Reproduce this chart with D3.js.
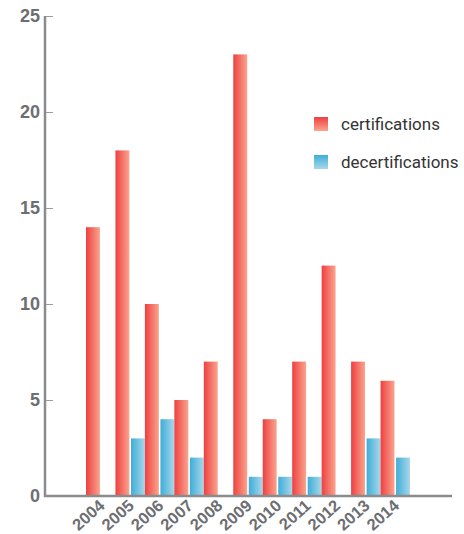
<!DOCTYPE html>
<html>
<head>
<meta charset="utf-8">
<script src="https://cdn.jsdelivr.net/npm/d3@7"></script>
<style>
  html, body { margin: 0; padding: 0; background: #fff; }
  svg { display: block; }
</style>
</head>
<body>
<svg id="chart" width="464" height="534"></svg>
<script>
// Certification activity by year
const years = ["2004","2005","2006","2007","2008","2009","2010","2011","2012","2013","2014"];
const certifications = [14, 18, 10, 5, 7, 23, 4, 7, 12, 7, 6];
const decertifications = [0, 3, 4, 2, 0, 1, 1, 1, 0, 3, 2];
const seriesNames = ["certifications", "decertifications"];
const yTicks = [0, 5, 10, 15, 20, 25];

const svg = d3.select("#chart");
const defs = svg.append("defs");

function hGrad(id, c0, c1) {
  const g = defs.append("linearGradient").attr("id", id)
    .attr("x1", "0%").attr("x2", "100%").attr("y1", "0%").attr("y2", "0%");
  g.append("stop").attr("offset", "0%").attr("stop-color", c0);
  g.append("stop").attr("offset", "100%").attr("stop-color", c1);
}
function vGrad(id, c0, c1) {
  const g = defs.append("linearGradient").attr("id", id)
    .attr("x1", "0%").attr("x2", "0%").attr("y1", "0%").attr("y2", "100%");
  g.append("stop").attr("offset", "0%").attr("stop-color", c0);
  g.append("stop").attr("offset", "100%").attr("stop-color", c1);
}
hGrad("gRed", "#ef3f40", "#f9a58e");
hGrad("gBlue", "#3eaed8", "#a9d7ea");
vGrad("gRedV", "#ef3f40", "#f9a58e");
vGrad("gBlueV", "#3eaed8", "#a9d7ea");
const fills = { certifications: "url(#gRed)", decertifications: "url(#gBlue)" };
const legendFills = { certifications: "url(#gRedV)", decertifications: "url(#gBlueV)" };

const axisX0 = 45, axisX1 = 452, y0 = 496, yTop = 16;

const x = d3.scaleBand().domain(years).range([86, 410]).paddingInner(0).paddingOuter(0);
const xs = d3.scaleBand().domain(seriesNames).range([0, x.bandwidth()]).padding(0);
const y = d3.scaleLinear().domain([0, 25]).range([y0, yTop]);

const rows = years.map((yr, i) => ({
  year: yr,
  certifications: certifications[i],
  decertifications: decertifications[i]
}));

// bars
const groups = svg.append("g").selectAll("g").data(rows).join("g")
  .attr("transform", d => `translate(${x(d.year)},0)`);
groups.selectAll("rect")
  .data(d => seriesNames.map(k => ({ key: k, value: d[k] })).filter(e => e.value > 0))
  .join("rect")
  .attr("x", d => xs(d.key) + (d.key === "decertifications" ? 0.8 : 0))
  .attr("width", xs.bandwidth() - 0.8)
  .attr("y", d => y(d.value))
  .attr("height", d => y(0) - y(d.value))
  .attr("fill", d => fills[d.key]);

// y axis
const yAxis = svg.append("g").attr("transform", `translate(${axisX0},0)`)
  .call(d3.axisRight(y).tickValues(yTicks).tickSize(8).tickFormat(""));
yAxis.select(".domain").remove();
yAxis.selectAll(".tick line").attr("stroke", "#9a9b9d").attr("stroke-width", 1);
svg.append("line").attr("x1", axisX0).attr("x2", axisX0).attr("y1", yTop).attr("y2", y0 + 1)
  .attr("stroke", "#8a8b8d").attr("stroke-width", 2.5);
svg.append("g").selectAll("text").data(yTicks).join("text")
  .attr("x", 40).attr("y", d => y(d)).attr("dy", "0.36em")
  .attr("text-anchor", "end")
  .attr("font-family", "'Liberation Sans', Arial, sans-serif")
  .attr("font-weight", "bold").attr("font-size", 18)
  .attr("fill", "#6d6e71")
  .text(d => d);

// x axis
svg.append("line").attr("x1", axisX0 - 1).attr("x2", axisX1).attr("y1", y0).attr("y2", y0)
  .attr("stroke", "#8a8b8d").attr("stroke-width", 2.5);
const xAxis = svg.append("g").attr("transform", `translate(0,${y0})`)
  .call(d3.axisBottom(x).tickSize(0).tickFormat(d => d));
xAxis.select(".domain").remove();
xAxis.selectAll(".tick text")
  .attr("font-family", "'Liberation Sans', Arial, sans-serif")
  .attr("font-weight", "bold").attr("font-size", 16.5)
  .attr("fill", "#6d6e71")
  .attr("text-anchor", "end")
  .attr("x", 0).attr("y", 0).attr("dy", 0)
  .attr("transform", "translate(5,11) rotate(-42)");

// legend
const legend = svg.append("g").selectAll("g").data(seriesNames).join("g")
  .attr("transform", (d, i) => `translate(314,${117 + i * 38})`);
legend.append("rect").attr("width", 14).attr("height", 14)
  .attr("fill", d => legendFills[d]);
legend.append("text").attr("x", 27).attr("y", 13)
  .attr("font-family", "Roboto, 'Liberation Sans', sans-serif")
  .attr("font-size", 17).attr("fill", "#333")
  .text(d => d);
</script>
</body>
</html>
